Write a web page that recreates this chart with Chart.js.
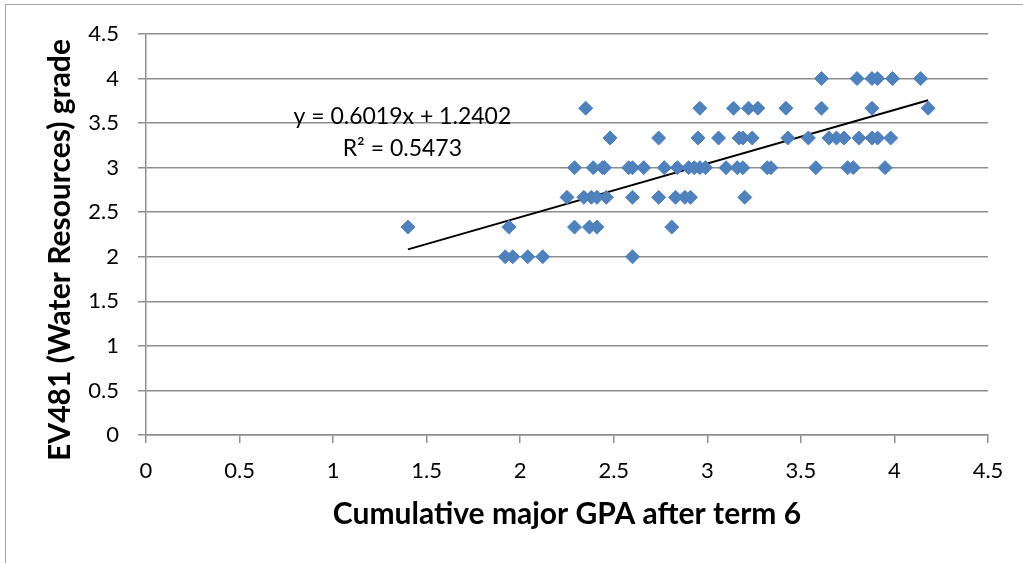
<!DOCTYPE html>
<html>
<head>
<meta charset="utf-8">
<script src="https://cdn.jsdelivr.net/npm/chart.js@4/dist/chart.umd.min.js"></script>
<style>
  html, body { margin: 0; padding: 0; background: #fff; overflow: hidden; }
  #wrap { position: relative; width: 1023px; height: 563px; }
  #frame { position: absolute; left: 5px; top: 4px; width: 1040px; height: 600px; border: 1px solid #a6a6a6; }
  #c { position: absolute; left: 0; top: 0; }
</style>
</head>
<body>
<div id="wrap">
  <div id="frame"></div>
  <canvas id="c" width="1023" height="563"></canvas>
</div>
<script>
// scatter values, grouped by grade row
const gpa = [
  1.92, 1.96, 2.04, 2.12, 2.60,
  1.40, 1.94, 2.29, 2.37, 2.41, 2.81,
  2.25, 2.34, 2.38, 2.41, 2.46, 2.60, 2.74, 2.83, 2.88, 2.91, 3.20,
  2.29, 2.39, 2.44, 2.45, 2.58, 2.60, 2.66, 2.77, 2.84, 2.90, 2.93, 2.96, 2.99, 3.10, 3.16, 3.19, 3.32, 3.34, 3.58, 3.75, 3.78, 3.95,
  2.48, 2.74, 2.95, 3.06, 3.17, 3.19, 3.24, 3.43, 3.54, 3.65, 3.69, 3.73, 3.81, 3.88, 3.91, 3.98,
  2.35, 2.96, 3.14, 3.22, 3.27, 3.42, 3.61, 3.88, 4.18,
  3.61, 3.80, 3.88, 3.91, 3.99, 4.14
];
const grade = [
  2, 2, 2, 2, 2,
  2.333, 2.333, 2.333, 2.333, 2.333, 2.333,
  2.667, 2.667, 2.667, 2.667, 2.667, 2.667, 2.667, 2.667, 2.667, 2.667, 2.667,
  3, 3, 3, 3, 3, 3, 3, 3, 3, 3, 3, 3, 3, 3, 3, 3, 3, 3, 3, 3, 3, 3,
  3.333, 3.333, 3.333, 3.333, 3.333, 3.333, 3.333, 3.333, 3.333, 3.333, 3.333, 3.333, 3.333, 3.333, 3.333, 3.333,
  3.667, 3.667, 3.667, 3.667, 3.667, 3.667, 3.667, 3.667, 3.667,
  4, 4, 4, 4, 4, 4
];

// linear trend shown on the chart
const slope = 0.6019;
const intercept = 1.2402;
const equationText = ['y = 0.6019x + 1.2402', 'R² = 0.5473'];

const xTitle = 'Cumulative major GPA after term 6';
const yTitle = 'EV481 (Water Resources) grade';

const points = gpa.map((x, i) => ({ x: x, y: grade[i] }));
const xMin = Math.min(...gpa);
const xMax = Math.max(...gpa);
const trend = [
  { x: xMin, y: slope * xMin + intercept },
  { x: xMax, y: slope * xMax + intercept }
];

const fontFam = 'Lato, "Open Sans", sans-serif';
const gridColor = '#8e8e8e';

// draws the rotated y title and the trend equation
const extraText = {
  id: 'extraText',
  afterDraw(chart) {
    const ctx = chart.ctx;
    const xs = chart.scales.x, ys = chart.scales.y;
    ctx.save();
    ctx.fillStyle = '#000';
    ctx.textAlign = 'center';
    ctx.textBaseline = 'middle';

    ctx.font = '23px ' + fontFam;
    ctx.fillText(equationText[0], xs.getPixelForValue(1.37), ys.getPixelForValue(3.57));
    ctx.fillText(equationText[1], xs.getPixelForValue(1.37), ys.getPixelForValue(3.21));

    ctx.translate(60, 250);
    ctx.rotate(-Math.PI / 2);
    ctx.font = 'bold 30px ' + fontFam;
    ctx.fillText(yTitle, 0, 0);
    ctx.restore();
  }
};

new Chart(document.getElementById('c').getContext('2d'), {
  type: 'scatter',
  data: {
    datasets: [
      {
        label: 'grades',
        data: points,
        pointStyle: 'rectRot',
        pointRadius: 7,
        pointHoverRadius: 7,
        borderWidth: 1,
        backgroundColor: '#4f81bd',
        borderColor: '#4f81bd'
      },
      {
        type: 'line',
        label: 'trend',
        data: trend,
        borderColor: '#000',
        borderWidth: 2,
        pointRadius: 0,
        fill: false
      }
    ]
  },
  options: {
    responsive: false,
    animation: false,
    layout: { padding: { left: 0, right: 35, top: 34, bottom: 0 } },
    plugins: { legend: { display: false }, tooltip: { enabled: false } },
    scales: {
      x: {
        type: 'linear',
        min: 0,
        max: 4.5,
        afterFit: s => { s.height = 128; },
        ticks: {
          stepSize: 0.5,
          color: '#000',
          padding: 15,
          font: { family: fontFam, size: 22 },
          maxRotation: 0,
          callback: v => String(v)
        },
        grid: { display: true, drawOnChartArea: false, drawTicks: true, tickLength: 8, color: gridColor, lineWidth: 1.5 },
        border: { color: gridColor, width: 1.5 },
        title: {
          display: true,
          text: xTitle,
          color: '#000',
          font: { family: fontFam, size: 30, weight: 'bold' },
          padding: { top: 0, bottom: 31 }
        }
      },
      y: {
        min: 0,
        max: 4.5,
        afterFit: s => { s.width = 146; },
        ticks: {
          stepSize: 0.5,
          color: '#000',
          padding: 19,
          font: { family: fontFam, size: 22 },
          callback: v => String(v)
        },
        grid: { color: gridColor, lineWidth: 1.5, tickLength: 8 },
        border: { color: gridColor, width: 1.5 }
      }
    }
  },
  plugins: [extraText]
});
</script>
</body>
</html>
